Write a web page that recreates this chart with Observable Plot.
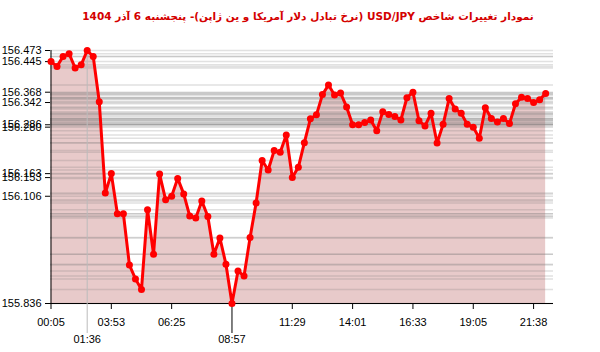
<!DOCTYPE html>
<html>
<head>
<meta charset="utf-8">
<script src="https://cdn.jsdelivr.net/npm/d3@7"></script>
<script src="https://cdn.jsdelivr.net/npm/@observablehq/plot@0.6"></script>
<style>
  html, body { margin: 0; padding: 0; background: #fff; width: 600px; height: 352px; overflow: hidden; }
  #title { height: 28px; line-height: 33px; text-align: center; direction: rtl; color: #d40000;
           font-family: "DejaVu Sans", sans-serif; font-weight: bold; font-size: 10.5px; padding-left: 16px; box-sizing: border-box; white-space: nowrap; }
  svg { display: block; }
</style>
</head>
<body>
<div id="title">نمودار تغییرات شاخص USD/JPY (نرخ تبادل دلار آمریکا و ین ژاپن)-  پنجشنبه  6 آذر 1404</div>
<div id="chart"></div>
<script>
// USD/JPY values, evenly spaced observations
const values = [
  156.445, 156.433, 156.458, 156.465, 156.429, 156.437, 156.473, 156.458, 156.344, 156.114,
  156.163, 156.062, 156.062, 155.933, 155.898, 155.871, 156.072, 155.960, 156.162, 156.097,
  156.106, 156.151, 156.112, 156.056, 156.051, 156.094, 156.055, 155.960, 156.001, 155.935,
  155.836, 155.918, 155.905, 156.002, 156.089, 156.196, 156.172, 156.221, 156.217, 156.260,
  156.153, 156.179, 156.241, 156.301, 156.311, 156.362, 156.386, 156.361, 156.366, 156.331,
  156.286, 156.286, 156.292, 156.298, 156.271, 156.319, 156.312, 156.307, 156.298, 156.354,
  156.368, 156.296, 156.283, 156.315, 156.240, 156.287, 156.352, 156.326, 156.315, 156.287,
  156.280, 156.252, 156.329, 156.302, 156.293, 156.302, 156.289, 156.339, 156.355, 156.352,
  156.342, 156.349, 156.365
];
const xTickIndex = [0, 10, 20, 40, 50, 60, 70, 80];
const xTickLabels = ["00:05", "03:53", "06:25", "11:29", "14:01", "16:33", "19:05", "21:38"];
const maxIndex = [6];
const maxLabel = ["01:36"];
const minIndex = [30];
const minLabel = ["08:57"];
const yTicks = [156.473, 156.445, 156.368, 156.342, 156.286, 156.280, 156.163, 156.153, 156.106, 155.836];

const data = values.map((v, i) => ({i, v}));
const vMin = d3.min(values), vMax = d3.max(values);
const labelOf = (idx, labs) => (d) => labs[idx.indexOf(d)];

const chart = Plot.plot({
  width: 600,
  height: 324,
  marginTop: 22,
  marginBottom: 49,
  marginLeft: 50,
  marginRight: 47,
  style: {fontFamily: "'Liberation Sans', Arial, sans-serif", fontSize: "11px", color: "black", background: "white"},
  x: {domain: [0, 83.3], range: [50.5, 553], axis: null},
  y: {domain: [vMin, vMax], axis: null},
  marks: [
    Plot.areaY(data, {x: "i", y1: vMin, y2: "v", fill: "#e8caca", curve: "linear"}),
    Plot.ruleY(values, {stroke: "#777", strokeOpacity: 0.22, strokeWidth: 1.5}),
    Plot.gridX(maxIndex, {stroke: "#bbb", strokeOpacity: 1, strokeWidth: 1}),
    Plot.ruleX([0], {stroke: "black", strokeWidth: 1}),
    Plot.ruleY([vMin], {stroke: "black", strokeWidth: 1}),
    Plot.axisY(yTicks, {anchor: "left", label: null, tickSize: 5, tickPadding: 4, tickFormat: (d) => d.toFixed(3), fill: "black", stroke: "black", fontSize: 11}),
    Plot.axisX(xTickIndex, {anchor: "bottom", label: null, tickSize: 6, tickPadding: 9, tickFormat: labelOf(xTickIndex, xTickLabels), fill: "black", stroke: "black", fontSize: 11}),
    Plot.axisX(maxIndex, {anchor: "bottom", label: null, tickSize: 30, tickPadding: 2, tickFormat: labelOf(maxIndex, maxLabel), fill: "black", stroke: "#bbb", fontSize: 11}),
    Plot.axisX(minIndex, {anchor: "bottom", label: null, tickSize: 30, tickPadding: 2, tickFormat: labelOf(minIndex, minLabel), fill: "black", stroke: "black", fontSize: 11}),
    Plot.line(data, {x: "i", y: "v", stroke: "#ff0000", strokeWidth: 3, strokeLinejoin: "round"}),
    Plot.dot(data, {x: "i", y: "v", r: 3.5, fill: "#ff0000", stroke: "none"})
  ]
});
document.getElementById("chart").appendChild(chart);
</script>
</body>
</html>
